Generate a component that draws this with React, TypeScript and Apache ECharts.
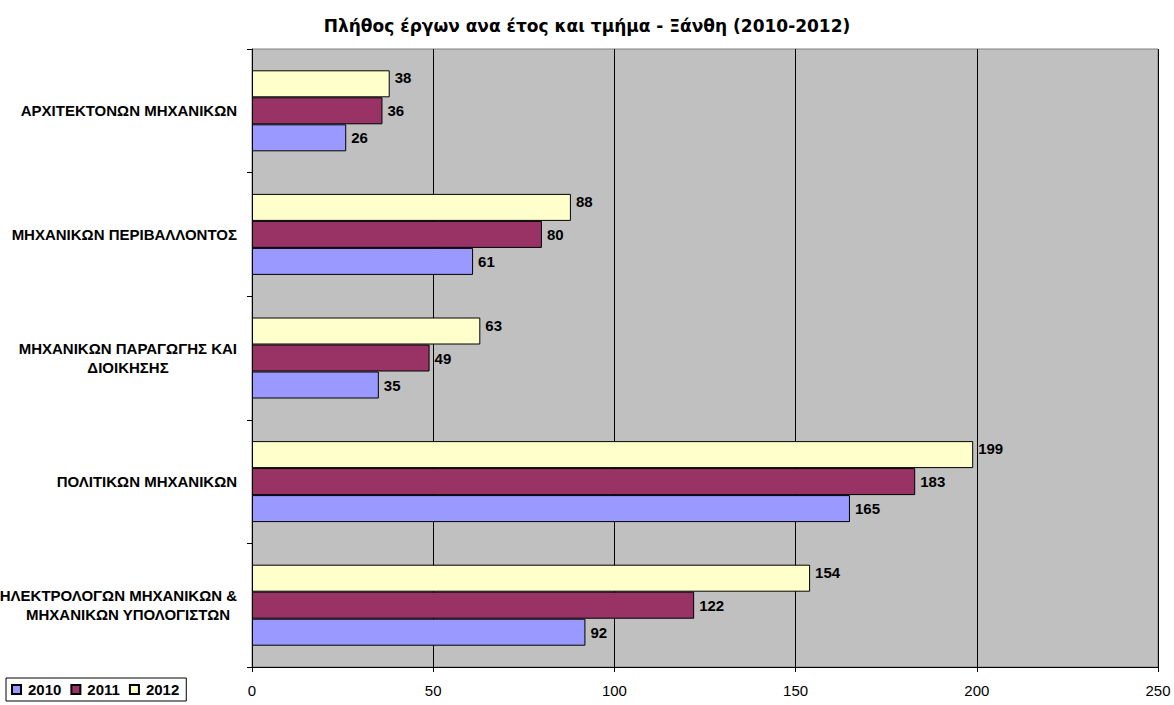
import React, { useEffect, useRef } from "react";
import * as echarts from "echarts";

const categories = [
  "ΗΛΕΚΤΡΟΛΟΓΩΝ ΜΗΧΑΝΙΚΩΝ &\nΜΗΧΑΝΙΚΩΝ ΥΠΟΛΟΓΙΣΤΩΝ",
  "ΠΟΛΙΤΙΚΩΝ ΜΗΧΑΝΙΚΩΝ",
  "ΜΗΧΑΝΙΚΩΝ ΠΑΡΑΓΩΓΗΣ ΚΑΙ\nΔΙΟΙΚΗΣΗΣ",
  "ΜΗΧΑΝΙΚΩΝ ΠΕΡΙΒΑΛΛΟΝΤΟΣ",
  "ΑΡΧΙΤΕΚΤΟΝΩΝ ΜΗΧΑΝΙΚΩΝ",
];
const values2010 = [92, 165, 35, 61, 26];
const values2011 = [122, 183, 49, 80, 36];
const values2012 = [154, 199, 63, 88, 38];
const years = ["2010", "2011", "2012"];
const xTicks = { min: 0, max: 250, interval: 50 };

const FONT = 'Arial, "Liberation Sans", sans-serif';
const TITLE_FONT = '"DejaVu Sans", Verdana, sans-serif';

export default function App() {
  const ref = useRef<HTMLDivElement>(null);
  useEffect(() => {
    if (!ref.current) return;
    const chart = echarts.init(ref.current, null, { renderer: "svg" });
    const mkSeries = (name: string, data: number[], color: string, off: number) => ({
      name,
      type: "bar",
      data,
      barWidth: 27,
      barGap: "0%",
      itemStyle: { color, borderColor: "#000", borderWidth: 1 },
      label: {
        show: true,
        position: "right",
        distance: 5,
        offset: [0, off],
        color: "#000",
        fontWeight: "bold",
        fontSize: 15,
        fontFamily: FONT,
      },
    });
    chart.setOption({
      animation: false,
      backgroundColor: "#fff",
      title: {
        text: "Πλήθος έργων ανα έτος και τμήμα - Ξάνθη (2010-2012)",
        left: "center",
        top: 12,
        textStyle: { fontSize: 17, fontWeight: "bold", color: "#000", fontFamily: TITLE_FONT },
      },
      legend: {
        data: years,
        left: 6,
        top: 678,
        orient: "horizontal",
        borderColor: "#000",
        borderWidth: 1,
        padding: [4, 7, 4, 5],
        itemWidth: 9,
        itemHeight: 9,
        itemGap: 9,
        icon: "rect",
        textStyle: { fontSize: 15, fontWeight: "bold", color: "#000", fontFamily: FONT, padding: [0, 0, 0, 2] },
      },
      grid: {
        left: 252,
        right: 16,
        top: 49,
        bottom: 38,
        containLabel: false,
        outerBoundsMode: "none",
        show: true,
        backgroundColor: "#C0C0C0",
        borderColor: "#808080",
        borderWidth: 1,
      },
      xAxis: {
        type: "value",
        min: xTicks.min,
        max: xTicks.max,
        interval: xTicks.interval,
        axisLine: { show: true, lineStyle: { color: "#000", width: 1 } },
        axisTick: { show: true, length: 5, lineStyle: { color: "#000" } },
        splitLine: { show: true, lineStyle: { color: "#000", width: 1 } },
        axisLabel: { color: "#000", fontSize: 15, fontFamily: FONT, margin: 16 },
      },
      yAxis: {
        type: "category",
        data: categories,
        axisLine: { show: true, lineStyle: { color: "#000", width: 1 } },
        axisTick: { show: true, length: 5, lineStyle: { color: "#000" } },
        axisLabel: {
          color: "#000",
          fontSize: 15,
          fontWeight: "bold",
          fontFamily: FONT,
          margin: 15,
          lineHeight: 19,
          formatter: (v: string) => {
            const parts = v.split("\n");
            if (parts.length === 1) return v;
            return "{r|" + parts[0] + "}\n{c|" + parts[1] + "}";
          },
          rich: {
            r: { width: 218, align: "right", fontSize: 15, fontWeight: "bold", fontFamily: FONT, color: "#000", lineHeight: 19 },
            c: { width: 218, align: "center", fontSize: 15, fontWeight: "bold", fontFamily: FONT, color: "#000", lineHeight: 19 },
          },
        },
      },
      series: [
        mkSeries("2012", values2012, "#FFFFCC", -6),
        mkSeries("2011", values2011, "#993366", 0),
        mkSeries("2010", values2010, "#9999FF", 0),
      ],
    });
    return () => chart.dispose();
  }, []);
  return (
    <div
      ref={ref}
      style={{ position: "fixed", left: 0, top: 0, width: 1174, height: 705 }}
    />
  );
}
